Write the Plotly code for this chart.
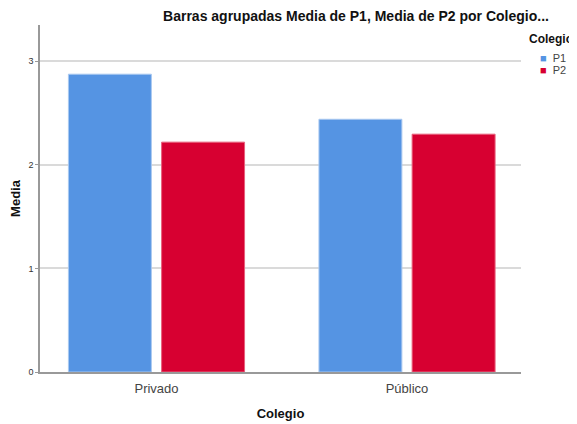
import plotly.graph_objects as go

colegios = ["Privado", "Público"]
p1_media = [2.875, 2.44]
p2_media = [2.219, 2.296]
y_ticks = [0, 1, 2, 3]
series_names = ["P1", "P2"]

BLUE = "#5594E3"
RED = "#D70031"

# the page body adds an 8px margin, so the figure is sized to what stays visible
OFF = 8
W, H = 577 - OFF, 424 - OFF
PL, PR, PT, PB = 40, 521, 25, 372  # plot area in screen pixels


def cx(px):
    return (px - OFF) / W


def cy(px):
    return 1 - (px - OFF) / H


fig = go.Figure()
fig.add_trace(go.Bar(
    x=colegios, y=p1_media, name=series_names[0],
    marker=dict(color=BLUE, line=dict(color="#A9C8F0", width=1)),
))
fig.add_trace(go.Bar(
    x=colegios, y=p2_media, name=series_names[1],
    marker=dict(color=RED, line=dict(color="#E8607C", width=1)),
))

# legend drawn as text so it sits where SPSS puts it
legend_items = [
    ("<b>Colegio</b>", 527, 39, 12, "#111111"),
    (f"<span style='color:{BLUE}'>■</span>  {series_names[0]}", 538, 58, 11, "#444444"),
    (f"<span style='color:{RED}'>■</span>  {series_names[1]}", 538, 70, 11, "#444444"),
]
annotations = [
    dict(text=t, x=(x - PL) / (PR - PL), y=(PB - y) / (PB - PT), xref="paper", yref="paper",
         xanchor="left", yanchor="middle", showarrow=False, font=dict(size=s, color=c))
    for t, x, y, s, c in legend_items
]

fig.update_layout(
    width=W, height=H,
    paper_bgcolor="white", plot_bgcolor="white",
    font=dict(family="Liberation Sans, Arial, sans-serif", color="#222222", size=12),
    margin=dict(l=PL - OFF, r=577 - PR, t=PT - OFF, b=424 - PB, autoexpand=False),
    barmode="group", bargap=0.256, bargroupgap=0.11,
    showlegend=False,
    annotations=annotations,
    title=dict(
        text="<b>Barras agrupadas Media de P1, Media de P2 por Colegio...</b>",
        x=cx(356), xanchor="center", xref="container",
        y=cy(16), yanchor="middle", yref="container",
        font=dict(size=14, color="#111111"),
    ),
    xaxis=dict(
        range=[-0.465, 1.455],
        showline=True, linecolor="#999999", linewidth=1.5,
        showgrid=False, ticks="", ticklabelstandoff=4,
        tickfont=dict(size=13, color="#444444"),
        title=dict(text="<b>Colegio</b>", font=dict(size=13, color="#111111"), standoff=14),
    ),
    yaxis=dict(
        range=[0, 3.35],
        tickvals=y_ticks,
        showline=True, linecolor="#999999", linewidth=1.5,
        showgrid=True, gridcolor="#DADADA", gridwidth=1.5,
        ticks="outside", ticklen=3, tickcolor="#999999",
        tickfont=dict(size=9, color="#333333"),
        zeroline=False,
        title=dict(text="<b>Media</b>", font=dict(size=13, color="#111111"), standoff=15),
    ),
)

fig.write_html("out.html")
